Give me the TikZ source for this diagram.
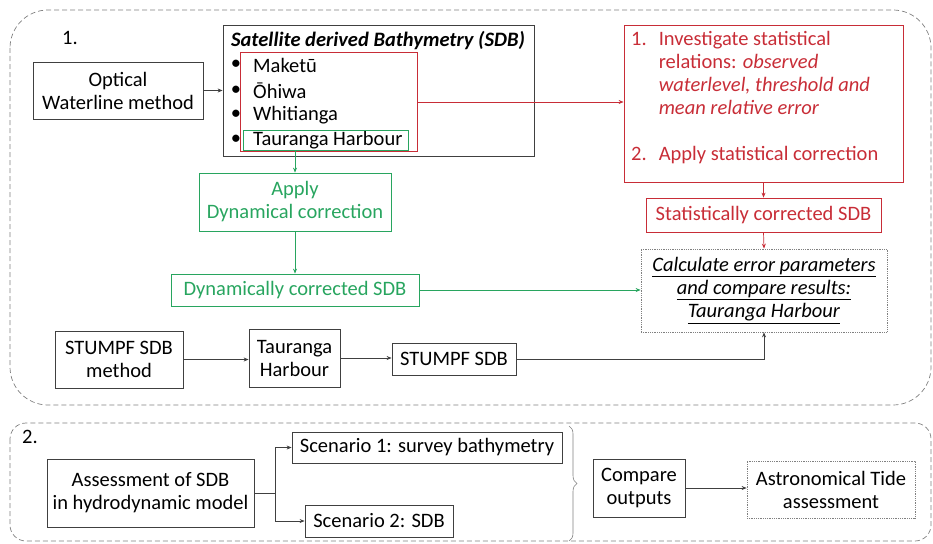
\documentclass[tikz,border=0pt]{standalone}
\usepackage{fontspec}
\setmainfont{Carlito}
\usetikzlibrary{arrows.meta, positioning, decorations.pathreplacing}
\definecolor{sdbred}{RGB}{200,45,55}
\definecolor{sdbgreen}{RGB}{40,165,95}
\definecolor{boxgray}{RGB}{64,64,64}

\begin{document}
\begin{tikzpicture}[x=1pt, y=-1pt,
  every node/.style={font=\fontsize{20.5}{23}\selectfont},
  box/.style={draw=boxgray, line width=0.8pt, align=center, inner sep=0pt},
  redbox/.style={box, draw=sdbred, text=sdbred},
  greenbox/.style={box, draw=sdbgreen, text=sdbgreen},
  dotbox/.style={box, draw=gray, densely dotted},
  arr/.style={-{Stealth[length=5pt,width=4pt]}, line width=0.7pt, boxgray},
  redarr/.style={arr, sdbred},
  greenarr/.style={arr, sdbgreen},
  section/.style={draw=gray, dash pattern=on 5pt off 3pt, line width=0.7pt}]

\useasboundingbox (0,0) rectangle (933,543);

% Sections
\draw[section, rounded corners=38] (10,10) rectangle (931,405);
\draw[section, rounded corners=16] (10,423) rectangle (931,541);
\node (lbl1) at (70,38) {1.};
\node (lbl2) at (30,437) {2.};

% Optical waterline and SDB sites
\node[box, minimum width=170, minimum height=57] (optical) at (118,90.5) {Optical\\Waterline method};
\node[box, minimum width=311, minimum height=131] (sdb) at (378.5,90.5) {};
\node (sdbtitle) at (378,41) {\textbf{\textit{Satellite derived Bathymetry (SDB)}}};
\foreach \site/\txt/\ypos in {maketu/Maketū/65, ohiwa/Ōhiwa/91, whitianga/Whitianga/115, tauranga/Tauranga Harbour/140} {
  \node (bul-\site) at (236,\ypos) {\textbullet};
  \node[anchor=west, inner sep=0pt] (\site) at (253,\ypos) {\txt};
}
\node[minimum width=176, minimum height=98, inner sep=0pt] (redsel) at (329,102) {};
\draw[sdbred, line width=1pt] (redsel.north west) rectangle (redsel.south east);
\node[greenbox, minimum width=165, minimum height=20] (greensel) at (325.5,140) {};
\draw[arr] (optical.east) -- (optical.east -| sdb.west);

% Statistical branch
\node[redbox, minimum width=279, minimum height=157] (invest) at (763.5,103.5) {};
\node[anchor=north west, inner sep=0pt, text=sdbred] (investtxt) at (631,29) {%
  \begin{tabular}{@{}l@{\hspace{12pt}}l@{}}
  1. & Investigate statistical\\
     & relations: \textit{observed}\\
     & \textit{waterlevel, threshold and}\\
     & \textit{mean relative error}\\
     & \\
  2. & Apply statistical correction
  \end{tabular}};
\draw[redarr] (redsel.east) -- (redsel.east -| invest.west);
\node[redbox, minimum width=235, minimum height=34] (statsdb) at (763.5,215) {Statistically corrected SDB};
\draw[redarr] (invest.south) -- (statsdb.north);

% Error parameters
\node[dotbox, minimum width=246, minimum height=83] (calc) at (764,290.5)
  {\underline{\textit{Calculate error parameters}}\\ \underline{\textit{and compare results:}}\\ \underline{\textit{Tauranga Harbour}}};
\draw[redarr] (statsdb.south) -- (calc.north);

% Dynamical branch
\node[greenbox, minimum width=192, minimum height=58] (apply) at (295,202) {Apply\\Dynamical correction};
\draw[greenarr] (apply.north |- greensel.south) -- (apply.north);
\node[greenbox, minimum width=248, minimum height=32] (dynsdb) at (295,290) {Dynamically corrected SDB};
\draw[greenarr] (apply) -- (dynsdb);
\draw[greenarr] (dynsdb.east) -- (dynsdb.east -| calc.west);

% STUMPF
\node[box, minimum width=128, minimum height=57] (stumpfmeth) at (119,359.5) {STUMPF SDB\\method};
\node[box, minimum width=91, minimum height=58] (taurbox) at (294.5,358) {Tauranga\\Harbour};
\node[box, minimum width=124, minimum height=32] (stumpfsdb) at (454,359) {STUMPF SDB};
\draw[arr] (stumpfmeth.east) -- (stumpfmeth.east -| taurbox.west);
\draw[arr] (taurbox.east) -- (taurbox.east -| stumpfsdb.west);
\draw[arr] (stumpfsdb.east) -| (calc.south);

% Section 2
\node[box, minimum width=207, minimum height=68] (assess) at (150.5,493) {Assessment of SDB\\in hydrodynamic model};
\node[box, minimum width=270, minimum height=31] (scen1) at (427,447.5) {Scenario 1: survey bathymetry};
\node[box, minimum width=148, minimum height=32] (scen2) at (379,521) {Scenario 2: SDB};
\coordinate (split) at (275,493);
\draw[boxgray, line width=0.7pt] (assess.east) -- (split);
\draw[arr] (split) |- (scen1.west);
\draw[arr] (split) |- (scen2.west);
\draw[decorate, decoration={brace, amplitude=8pt}, gray, line width=0.6pt] (569,426) -- (569,541);
\node[box, minimum width=92, minimum height=58] (compare) at (639,488) {Compare\\outputs};
\node[dotbox, minimum width=168, minimum height=57] (astro) at (831,489.5) {Astronomical Tide\\assessment};
\draw[arr] (compare.east) -- (compare.east -| astro.west);

\end{tikzpicture}
\end{document}
